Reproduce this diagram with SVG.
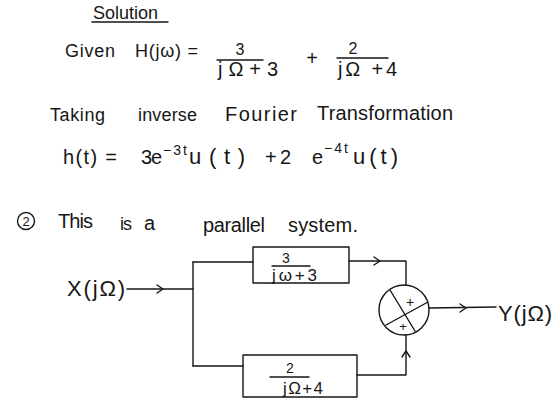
<svg xmlns="http://www.w3.org/2000/svg" xmlns:xlink="http://www.w3.org/1999/xlink" width="560" height="420" viewBox="0 0 560 420">
<style>
text{font-family:"Liberation Sans","DejaVu Sans",sans-serif;fill:#161616}
.t22{font-size:22px}
.t20{font-size:20px}
.t18{font-size:18px}
.t17{font-size:17px}
.t16{font-size:16px}
.t14{font-size:14px}
.t13{font-size:13px}
.sup{font-size:14px}
.ln{stroke:#161616;stroke-width:1.4;fill:none;stroke-linecap:round;stroke-linejoin:round}
</style>
<defs>
<path id="chev" d="M-6,-4 L0,0 L-6,4" class="ln"/>
</defs>
<rect width="560" height="420" fill="#ffffff"/>

<!-- Heading -->
<text x="93" y="19" class="t18" textLength="65">Solution</text>
<line x1="92" y1="22" x2="168" y2="22" class="ln"/>

<!-- Given line -->
<text x="65" y="57" class="t18" textLength="50">Given</text>
<text x="135" y="57" class="t18" textLength="63">H(jω) =</text>
<text x="240" y="55" class="t16" text-anchor="middle">3</text>
<line x1="217" y1="60" x2="263" y2="60" class="ln"/>
<text x="218" y="76" class="t20" textLength="60">jΩ+3</text>
<text x="312" y="65" class="t20" text-anchor="middle">+</text>
<text x="353" y="54" class="t16" text-anchor="middle">2</text>
<line x1="337" y1="58" x2="388" y2="58" class="ln"/>
<text x="338" y="76" class="t20" textLength="59">jΩ +4</text>

<!-- Taking inverse Fourier Transformation -->
<text x="50" y="121" class="t18" textLength="55">Taking</text>
<text x="138" y="121" class="t18" textLength="59">inverse</text>
<text x="225" y="121" class="t20" textLength="72">Fourier</text>
<text x="317" y="120" class="t20" textLength="136">Transformation</text>

<!-- h(t) line -->
<text x="63" y="164" class="t20" textLength="54">h(t) =</text>
<text x="141" y="164" class="t20">3</text>
<text x="151" y="164" class="t20">e</text>
<text x="163" y="155" class="sup" textLength="24">−3t</text>
<text x="189" y="164" class="t22" textLength="56">u(t)</text>
<text x="265" y="164" class="t20">+</text>
<text x="280" y="164" class="t20">2</text>
<text x="312" y="164" class="t20">e</text>
<text x="324" y="153" class="sup" textLength="24">−4t</text>
<text x="353" y="164" class="t22" textLength="45">u(t)</text>

<!-- Part 2 heading -->
<circle cx="26" cy="221" r="8.5" class="ln"/>
<text x="26" y="225.5" class="t13" text-anchor="middle">2</text>
<text x="58" y="228" class="t20" textLength="35">This</text>
<text x="120" y="230" class="t18" textLength="12">is</text>
<text x="144" y="230" class="t20">a</text>
<text x="203" y="232" class="t20" textLength="62">parallel</text>
<text x="288" y="232" class="t20" textLength="70">system.</text>

<!-- Nodes -->
<g id="input">
<text x="67" y="296" class="t22" textLength="58">X(jΩ)</text>
</g>

<g id="block1">
<rect x="253" y="247" width="96" height="36" class="ln"/>
<text x="286" y="263" class="t14" text-anchor="middle">3</text>
<line x1="272" y1="266" x2="310" y2="266" class="ln"/>
<text x="272" y="281" class="t17" textLength="45">jω+3</text>
</g>

<g id="block2">
<rect x="243" y="355" width="114" height="42" class="ln"/>
<text x="290" y="373" class="t14" text-anchor="middle">2</text>
<line x1="270" y1="377" x2="309" y2="377" class="ln"/>
<text x="283" y="394" class="t17" textLength="40">jΩ+4</text>
</g>

<g id="summer">
<circle cx="404" cy="310" r="25" class="ln"/>
<line x1="390" y1="290" x2="415" y2="331" class="ln"/>
<line x1="386" y1="325" x2="428" y2="302" class="ln"/>
<text x="410" y="307" class="t14" text-anchor="middle">+</text>
<text x="403" y="331" class="t13" text-anchor="middle">+</text>
</g>

<g id="output">
<text x="498" y="321" class="t22" textLength="54">Y(jΩ)</text>
</g>

<!-- Connectors -->
<g id="connectors">
<polyline points="127,289 193,289" class="ln"/>
<use xlink:href="#chev" transform="translate(163,289)"/>
<polyline points="193,262 193,366" class="ln"/>
<polyline points="193,262 253,262" class="ln"/>
<polyline points="349,261 406,261 406,285" class="ln"/>
<use xlink:href="#chev" transform="translate(380,261)"/>
<polyline points="193,366 243,366" class="ln"/>
<polyline points="357,375 406,375 406,335" class="ln"/>
<use xlink:href="#chev" transform="translate(406,351) rotate(-90)"/>
<polyline points="429,308 496,307" class="ln"/>
<use xlink:href="#chev" transform="translate(466,308)"/>
</g>
</svg>
